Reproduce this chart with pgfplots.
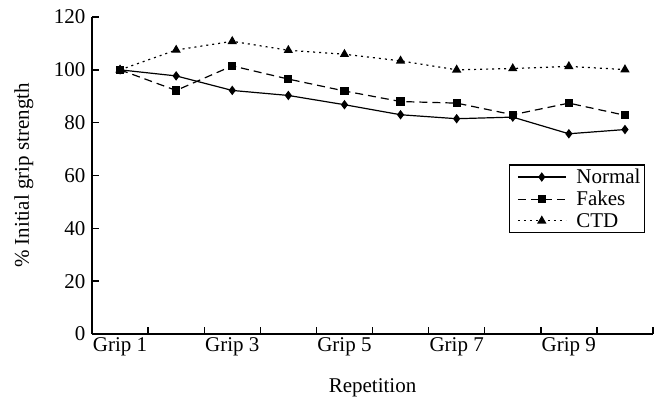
\documentclass[border=0pt]{standalone}
\usepackage{pgfplots}
\pgfplotsset{compat=1.18}
\usepackage{fontspec}
\setmainfont{Liberation Serif}
\begin{document}
\begin{tikzpicture}[font=\fontsize{21}{25}\selectfont]
\begin{axis}[
  scale only axis,
  width=561pt, height=317pt,
  xmin=0.5, xmax=10.5,
  ymin=0, ymax=120,
  axis x line=bottom, axis y line=left,
  axis line style={-, line width=1.6pt},
  clip=false,
  tick align=inside,
  major tick length=7pt,
  tick style={line width=1.4pt, black},
  xtick={1.5,2.5,...,10.5},
  xticklabels={},
  extra x ticks={1,3,5,7,9},
  extra x tick labels={Grip 1,Grip 3,Grip 5,Grip 7,Grip 9},
  extra x tick style={major tick length=0pt},
  ytick={0,20,...,120},
  yticklabel style={xshift=-3pt},
  /pgf/number format/assume math mode=true,
  xlabel={Repetition},
  ylabel={\% Initial grip strength},
  every axis x label/.style={at={(axis description cs:0.5,-0.183)}, anchor=base},
  every axis y label/.style={at={(axis description cs:-0.1123,0.5)}, rotate=90, anchor=base},
  legend style={at={(axis description cs:0.986,0.535)}, anchor=north east,
    draw=black, line width=1.2pt, inner sep=2pt, row sep=2pt,
    font=\fontsize{21}{25}\selectfont},
  legend cell align=left,
  legend image code/.code={\path (-6pt,0pt) (56pt,0pt);\draw[mark repeat=2,mark phase=2,#1] plot coordinates {(0pt,0pt) (24pt,0pt) (48pt,0pt)};},
]
\addplot[black, line width=1.2pt, mark=diamond*, mark size=3.8pt, mark options={solid}]
  coordinates {(1,100) (2,97.7) (3,92.2) (4,90.3) (5,86.8) (6,83.0) (7,81.5) (8,82.1) (9,75.8) (10,77.4)};
\addlegendentry{Normal}
\addplot[black, line width=1.2pt, dash pattern=on 8pt off 5pt, mark=square*, mark size=3.5pt, mark options={solid}]
  coordinates {(1,100) (2,92.2) (3,101.5) (4,96.5) (5,92.0) (6,88.0) (7,87.4) (8,83.0) (9,87.4) (10,82.8)};
\addlegendentry{Fakes}
\addplot[black, line width=1.2pt, dash pattern=on 2pt off 4pt, mark=triangle*, mark size=4.2pt, mark options={solid}]
  coordinates {(1,100) (2,107.5) (3,110.8) (4,107.4) (5,105.9) (6,103.4) (7,100.0) (8,100.5) (9,101.3) (10,100.1)};
\addlegendentry{CTD}
\path (rel axis cs:0,0) ++(-92pt,-66pt) coordinate (bbsw);
\path (rel axis cs:1,1) ++(5pt,17pt) coordinate (bbne);
\end{axis}
\useasboundingbox (bbsw) rectangle (bbne);
\end{tikzpicture}
\end{document}
